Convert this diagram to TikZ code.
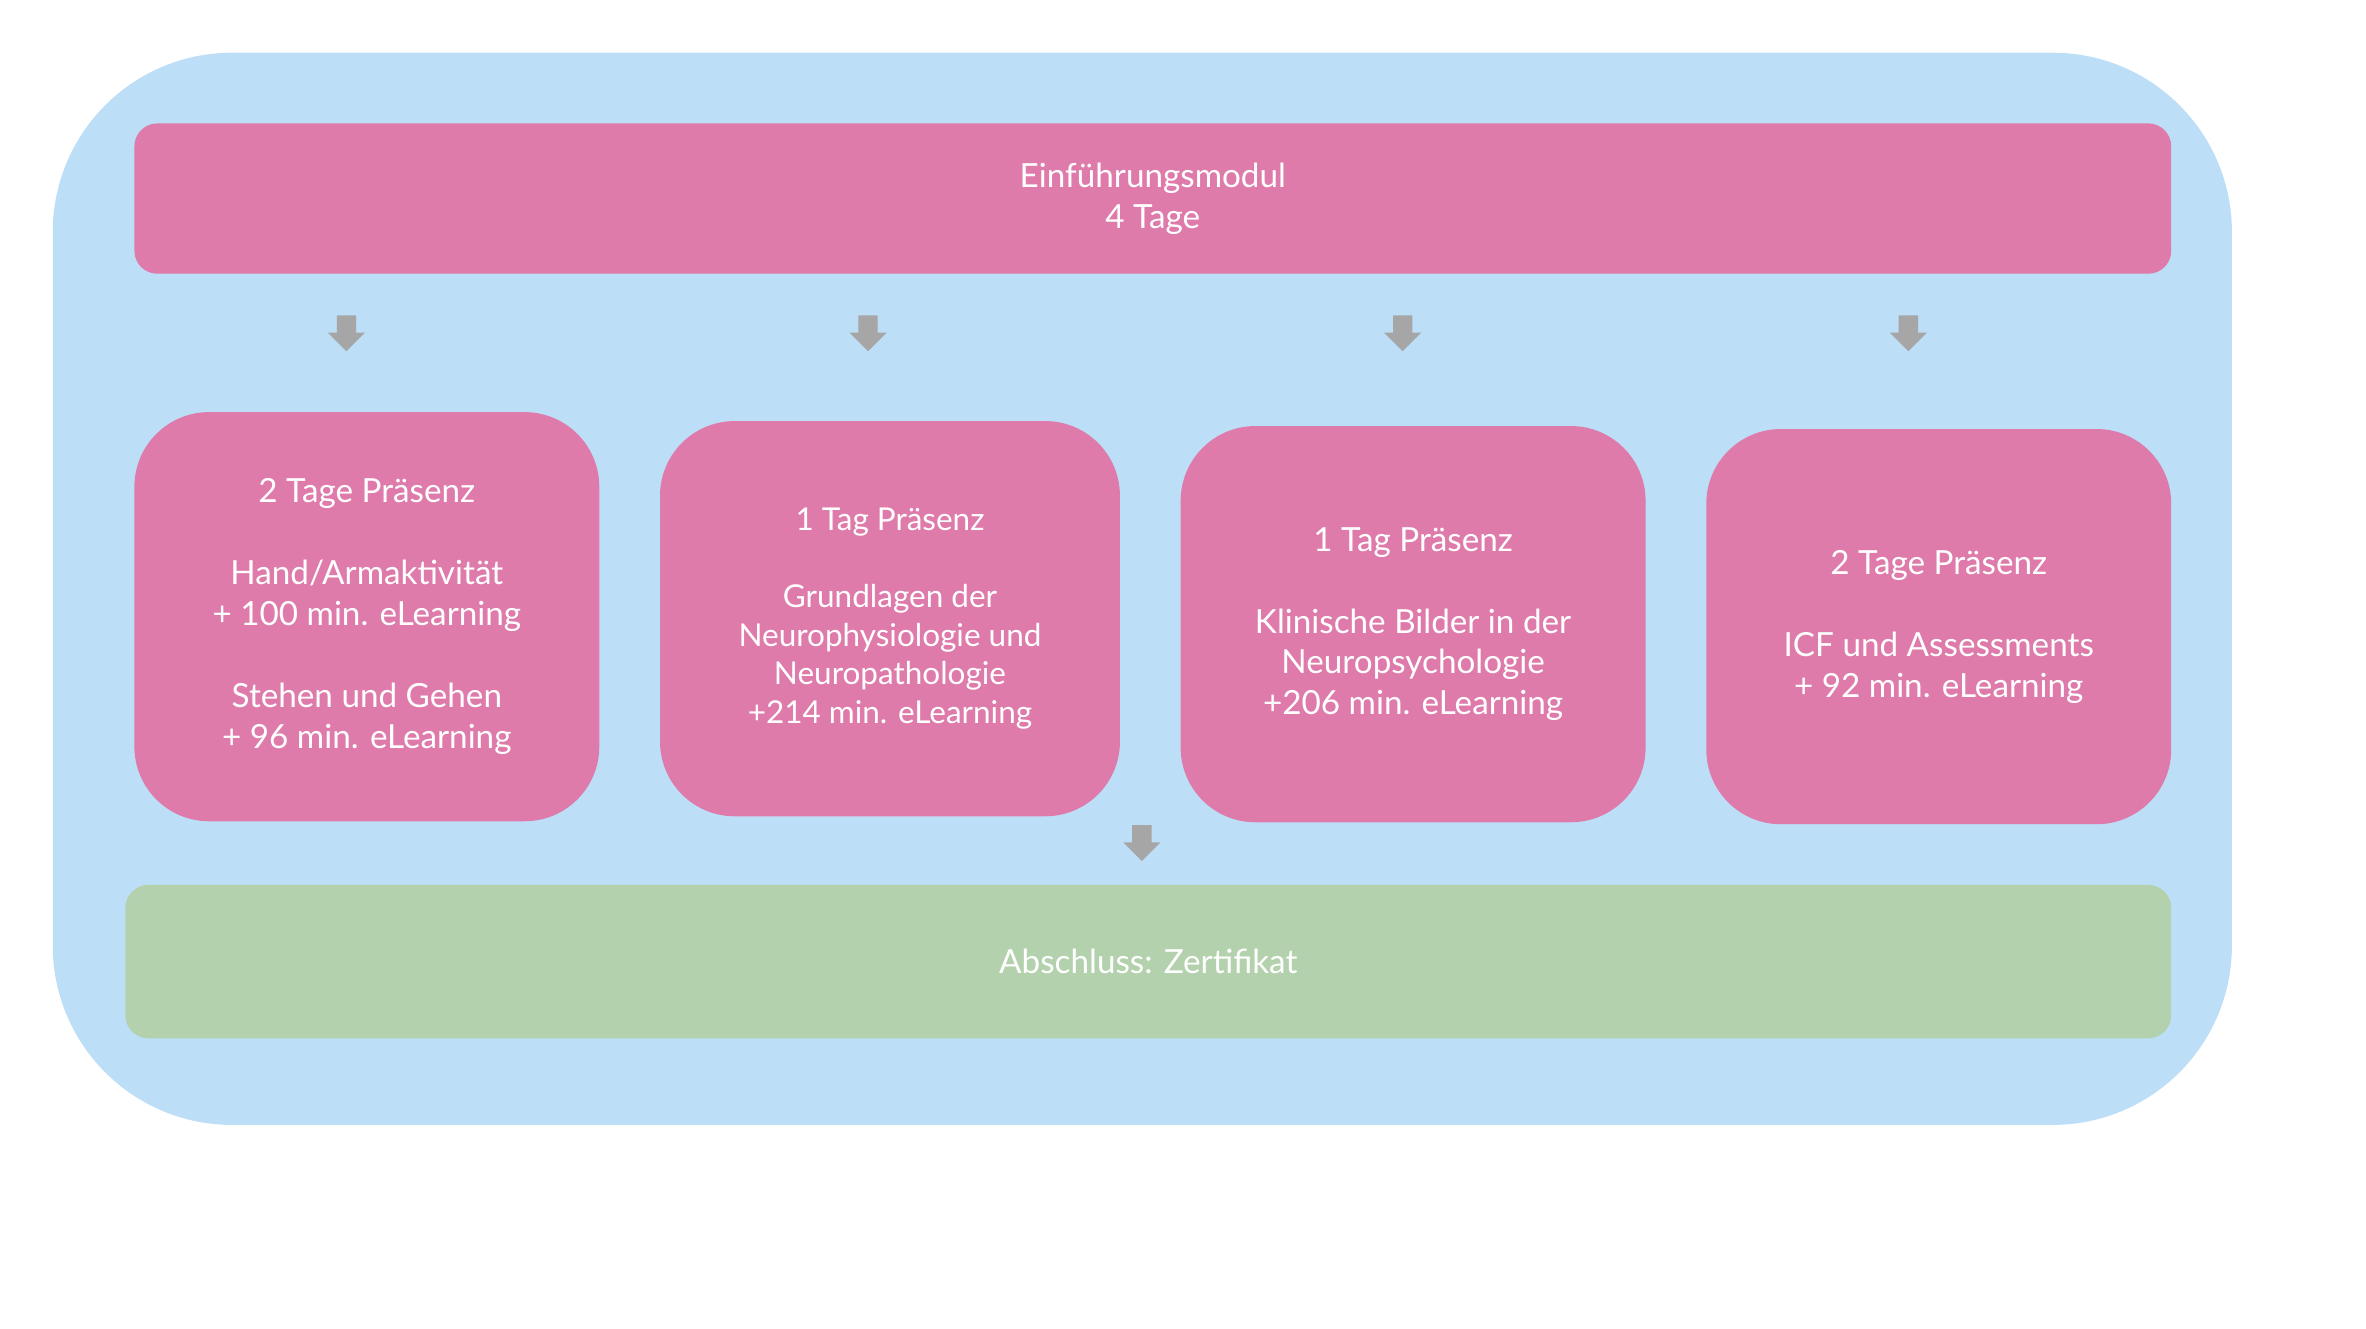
\documentclass[tikz,border=0pt]{standalone}
\usepackage{fontspec}
\setmainfont{Lato}
\usetikzlibrary{shapes.arrows}
\definecolor{outerblue}{RGB}{189,222,247}
\definecolor{modpink}{RGB}{222,123,171}
\definecolor{endgreen}{RGB}{178,209,172}
\definecolor{arrowgray}{RGB}{166,166,166}
\newcommand{\modfont}{\fontsize{9.5}{11.7}\selectfont}
\newcommand{\smallmodfont}{\fontsize{9}{11}\selectfont}

\begin{document}
\begin{tikzpicture}[
    frame/.style={fill=outerblue, rounded corners=18mm, inner sep=0pt},
    bar/.style={fill=#1, rounded corners=2.3mm, text=white, align=center, inner sep=0pt, font=\modfont},
    dayblock/.style={fill=modpink, rounded corners=7.5mm, text=white, align=center, inner sep=0pt, font=\modfont},
    downarrow/.style={single arrow, fill=arrowgray, draw=none, inner sep=0.9mm,
        minimum height=3.6mm, minimum width=3.6mm, single arrow head extend=0.9mm,
        single arrow head indent=0pt, shape border rotate=270}
    ]
        \useasboundingbox (0,-0.06) rectangle (23.767,13.29);
        \node[frame, minimum width=21.89cm, minimum height=10.77cm] (course) at (11.475,7.375) {};

        \node[bar=modpink, minimum width=20.46cm, minimum height=1.51cm] (intro) at (11.58,11.295) {Einführungsmodul\\4 Tage};

        \foreach \x [count=\k] in {3.48,8.72,14.09,19.17}{
            \node[downarrow] (down\k) at (\x,9.99) {};
        }

        \node[dayblock, minimum width=4.67cm, minimum height=4.11cm] (mod1) at (3.685,7.095)
            {2 Tage Präsenz\\[11.7pt]Hand/Armaktivität\\+ 100 min. eLearning\\[11.7pt]Stehen und Gehen\\+ 96 min. eLearning};
        \node[dayblock, minimum width=4.62cm, minimum height=3.97cm, font=\smallmodfont] (mod2) at (8.94,7.075)
            {1 Tag Präsenz\\[11pt]Grundlagen der\\Neurophysiologie und\\Neuropathologie\\+214 min. eLearning};
        \node[dayblock, minimum width=4.67cm, minimum height=3.98cm] (mod3) at (14.195,7.02)
            {1 Tag Präsenz\\[11.7pt]Klinische Bilder in der\\Neuropsychologie\\+206 min. eLearning};
        \node[dayblock, minimum width=4.67cm, minimum height=3.97cm] (mod4) at (19.475,6.995)
            {2 Tage Präsenz\\[11.7pt]ICF und Assessments\\+ 92 min. eLearning};

        \node[downarrow] (downend) at (11.47,4.87) {};

        \node[bar=endgreen, minimum width=20.55cm, minimum height=1.54cm] (final) at (11.535,3.63) {Abschluss: Zertifikat};
    \end{tikzpicture}
\end{document}
